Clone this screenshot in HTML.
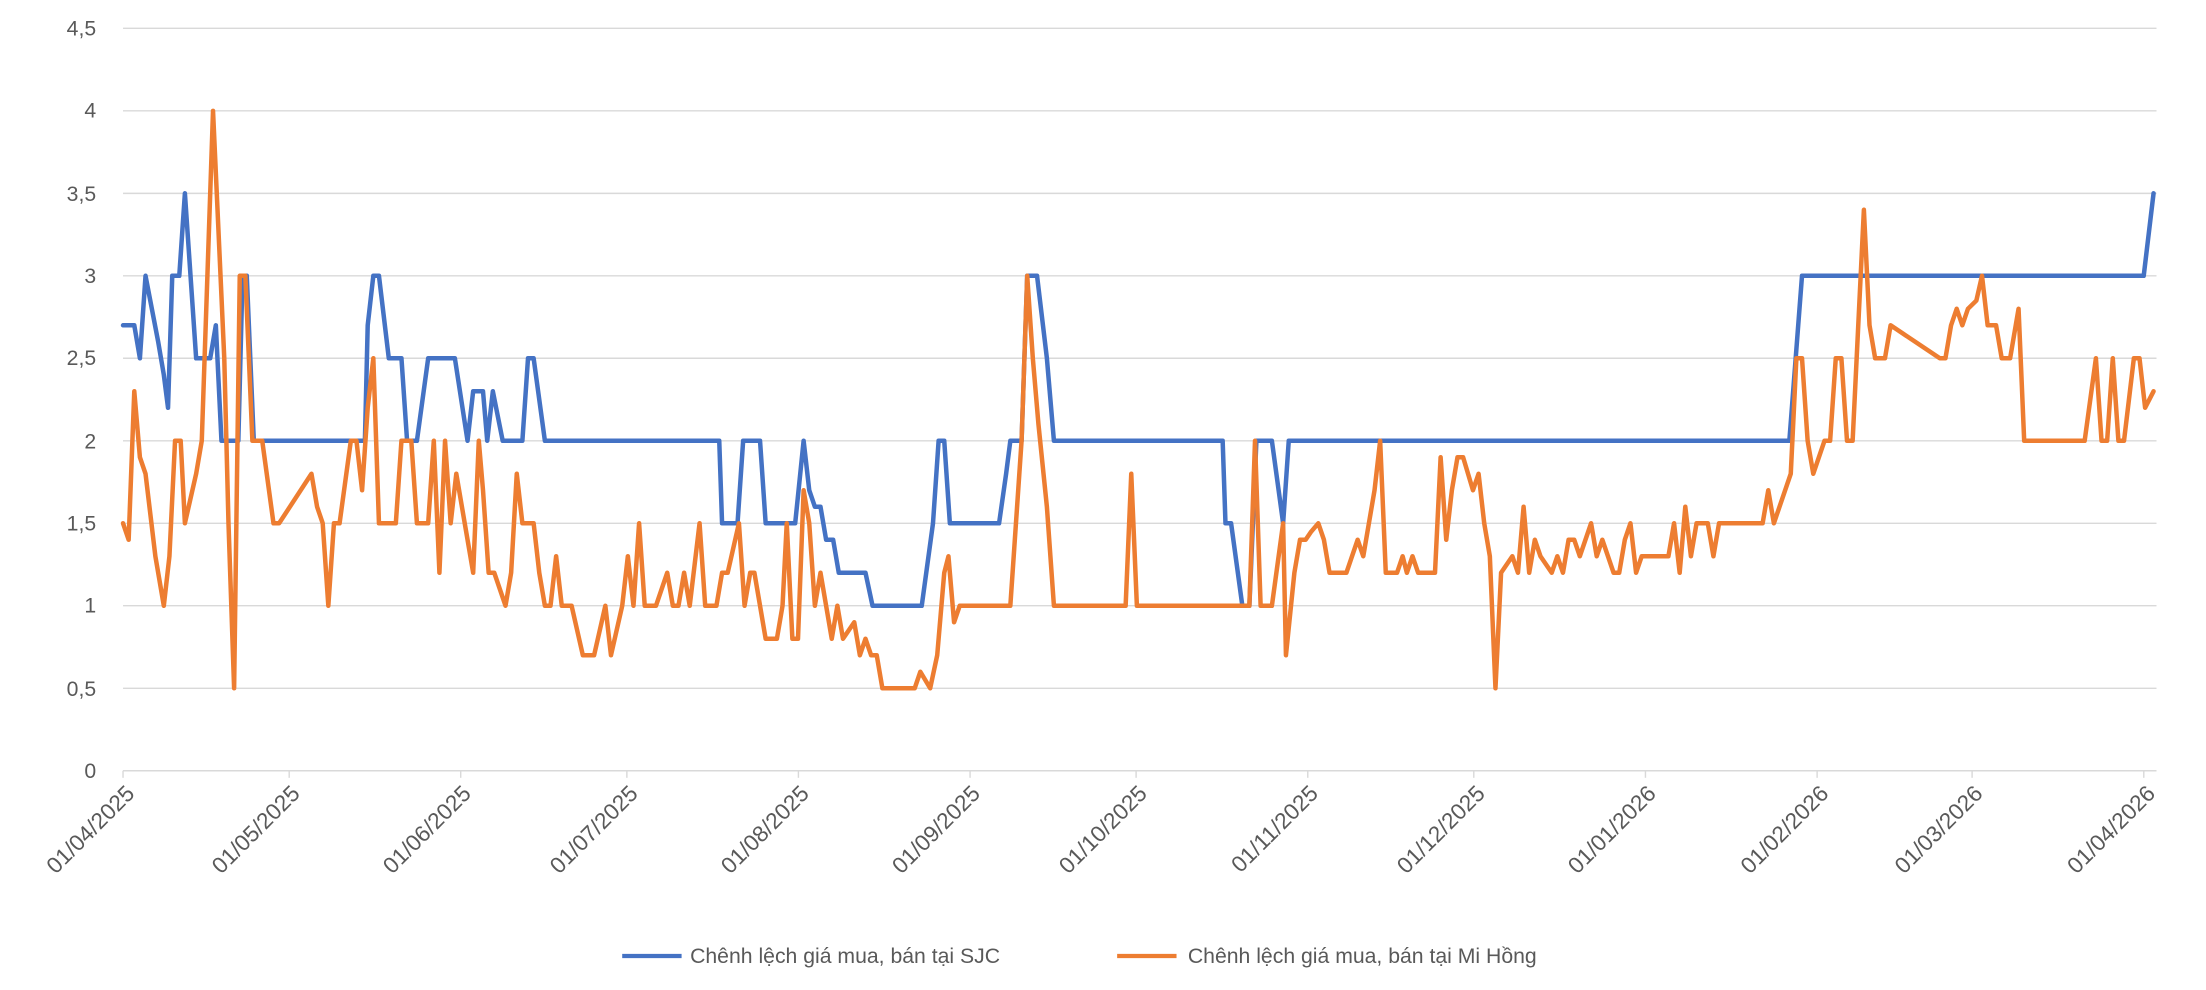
<!DOCTYPE html>
<html><head><meta charset="utf-8"><style>
html,body{margin:0;padding:0;background:#fff;}
svg{display:block;font-family:"Liberation Sans",Arial,sans-serif;}
</style></head><body>
<svg width="2206" height="990" viewBox="0 0 1560 700" xmlns="http://www.w3.org/2000/svg">
<g stroke="#d9d9d9" stroke-width="1">
<line x1="87" x2="1525" y1="20" y2="20"/><line x1="87" x2="1525" y1="78.3" y2="78.3"/>
<line x1="87" x2="1525" y1="136.7" y2="136.7"/><line x1="87" x2="1525" y1="195" y2="195"/>
<line x1="87" x2="1525" y1="253.3" y2="253.3"/><line x1="87" x2="1525" y1="311.7" y2="311.7"/>
<line x1="87" x2="1525" y1="370" y2="370"/><line x1="87" x2="1525" y1="428.3" y2="428.3"/>
<line x1="87" x2="1525" y1="486.7" y2="486.7"/><line x1="87" x2="1525" y1="545" y2="545"/>
</g>
<g fill="#595959" font-size="15" text-anchor="end">
<text x="68" y="25">4,5</text><text x="68" y="83">4</text><text x="68" y="142">3,5</text>
<text x="68" y="200">3</text><text x="68" y="258">2,5</text><text x="68" y="317">2</text>
<text x="68" y="375">1,5</text><text x="68" y="433">1</text><text x="68" y="492">0,5</text><text x="68" y="550">0</text>
</g>
<g fill="#595959" font-size="16" text-anchor="end">
<text transform="translate(96,562) rotate(-45)">01/04/2025</text>
<text transform="translate(213,562) rotate(-45)">01/05/2025</text>
<text transform="translate(334,562) rotate(-45)">01/06/2025</text>
<text transform="translate(452,562) rotate(-45)">01/07/2025</text>
<text transform="translate(573,562) rotate(-45)">01/08/2025</text>
<text transform="translate(694,562) rotate(-45)">01/09/2025</text>
<text transform="translate(812,562) rotate(-45)">01/10/2025</text>
<text transform="translate(933,562) rotate(-45)">01/11/2025</text>
<text transform="translate(1051,562) rotate(-45)">01/12/2025</text>
<text transform="translate(1172,562) rotate(-45)">01/01/2026</text>
<text transform="translate(1294,562) rotate(-45)">01/02/2026</text>
<text transform="translate(1403,562) rotate(-45)">01/03/2026</text>
<text transform="translate(1525,562) rotate(-45)">01/04/2026</text>
</g>
<g stroke="#d9d9d9" stroke-width="1">
<line x1="87" x2="87" y1="545" y2="550"/><line x1="204.5" x2="204.5" y1="545" y2="550"/>
<line x1="325.8" x2="325.8" y1="545" y2="550"/><line x1="443.3" x2="443.3" y1="545" y2="550"/>
<line x1="564.6" x2="564.6" y1="545" y2="550"/><line x1="686" x2="686" y1="545" y2="550"/>
<line x1="803.4" x2="803.4" y1="545" y2="550"/><line x1="924.8" x2="924.8" y1="545" y2="550"/>
<line x1="1042.2" x2="1042.2" y1="545" y2="550"/><line x1="1163.6" x2="1163.6" y1="545" y2="550"/>
<line x1="1285" x2="1285" y1="545" y2="550"/><line x1="1394.6" x2="1394.6" y1="545" y2="550"/>
<line x1="1516" x2="1516" y1="545" y2="550"/>
</g>
<g transform="translate(87,545) scale(0.9944,-116.67) translate(-88,0)" fill="none" stroke-linejoin="round" stroke-linecap="round">
<polyline vector-effect="non-scaling-stroke" stroke-width="4.5" stroke="#4472c4" points="88,2.7 96,2.7 100,2.5 104,3.0 113,2.6 117,2.4 120,2.2 123,3.0 128,3.0 132,3.5 140,2.5 150,2.5 154,2.7 158,2.0 170,2.0 173,3.0 176,3.0 181,2.0 260,2.0 262,2.7 266,3.0 270,3.0 277,2.5 286,2.5 290,2.0 297,2.0 305,2.5 324,2.5 333,2.0 337,2.3 344,2.3 347,2.0 351,2.3 358,2.0 372,2.0 376,2.5 380,2.5 388,2.0 512,2.0 514,1.5 525,1.5 529,2.0 541,2.0 545,1.5 566,1.5 572,2.0 576,1.7 580,1.6 584,1.6 588,1.4 593,1.4 597,1.2 616,1.2 621,1.0 656,1.0 664,1.5 668,2.0 672,2.0 676,1.5 711,1.5 716,1.8 719,2.0 727,2.0 731,3.0 738,3.0 745,2.5 750,2.0 870,2.0 872,1.5 876,1.5 884,1.0 889,1.0 894,2.0 905,2.0 913,1.5 917,2.0 1273,2.0 1282,3.0 1525,3.0 1532,3.5"/>
<polyline vector-effect="non-scaling-stroke" stroke-width="4.5" stroke="#ed7d31" points="88,1.5 92,1.4 96,2.3 100,1.9 104,1.8 111,1.3 117,1.0 121,1.3 125,2.0 129,2.0 132,1.5 140,1.8 144,2.0 148,3.0 152,4.0 160,2.5 163,1.5 167,0.5 171,3.0 175,3.0 180,2.0 187,2.0 195,1.5 199,1.5 222,1.8 226,1.6 230,1.5 234,1.0 238,1.5 242,1.5 250,2.0 254,2.0 258,1.7 262,2.2 266,2.5 270,1.5 282,1.5 286,2.0 293,2.0 297,1.5 305,1.5 309,2.0 313,1.2 317,2.0 321,1.5 325,1.8 333,1.4 337,1.2 341,2.0 344,1.7 348,1.2 352,1.2 360,1.0 364,1.2 368,1.8 372,1.5 380,1.5 384,1.2 388,1.0 392,1.0 396,1.3 400,1.0 407,1.0 415,0.7 423,0.7 431,1.0 435,0.7 443,1.0 447,1.3 451,1.0 455,1.5 459,1.0 467,1.0 475,1.2 479,1.0 483,1.0 487,1.2 491,1.0 498,1.5 502,1.0 506,1.0 510,1.0 514,1.2 518,1.2 526,1.5 530,1.0 534,1.2 537,1.2 541,1.0 545,0.8 553,0.8 557,1.0 560,1.5 564,0.8 568,0.8 572,1.7 576,1.5 580,1.0 584,1.2 588,1.0 592,0.8 596,1.0 600,0.8 608,0.9 612,0.7 616,0.8 620,0.7 624,0.7 628,0.5 651,0.5 655,0.6 662,0.5 667,0.7 672,1.2 675,1.3 679,0.9 683,1.0 719,1.0 723,1.5 727,2.0 731,3.0 735,2.5 739,2.1 745,1.6 750,1.0 801,1.0 805,1.8 809,1.0 885,1.0 889,1.0 893,2.0 897,1.0 905,1.0 913,1.5 915,0.7 921,1.2 925,1.4 929,1.4 933,1.45 938,1.5 942,1.4 946,1.2 958,1.2 962,1.3 966,1.4 970,1.3 974,1.5 978,1.7 982,2.0 986,1.2 994,1.2 998,1.3 1001,1.2 1005,1.3 1009,1.2 1021,1.2 1025,1.9 1029,1.4 1033,1.7 1037,1.9 1041,1.9 1048,1.7 1052,1.8 1056,1.5 1060,1.3 1064,0.5 1068,1.2 1076,1.3 1080,1.2 1084,1.6 1088,1.2 1092,1.4 1096,1.3 1104,1.2 1108,1.3 1112,1.2 1116,1.4 1120,1.4 1124,1.3 1128,1.4 1132,1.5 1136,1.3 1140,1.4 1148,1.2 1152,1.2 1156,1.4 1160,1.5 1164,1.2 1168,1.3 1187,1.3 1191,1.5 1195,1.2 1199,1.6 1203,1.3 1207,1.5 1215,1.5 1219,1.3 1223,1.5 1254,1.5 1258,1.7 1262,1.5 1274,1.8 1278,2.5 1282,2.5 1286,2.0 1290,1.8 1298,2.0 1302,2.0 1306,2.5 1310,2.5 1314,2.0 1318,2.0 1326,3.4 1330,2.7 1334,2.5 1341,2.5 1345,2.7 1380,2.5 1384,2.5 1388,2.7 1392,2.8 1396,2.7 1400,2.8 1406,2.85 1410,3.0 1414,2.7 1420,2.7 1424,2.5 1430,2.5 1436,2.8 1440,2.0 1483,2.0 1491,2.5 1495,2.0 1499,2.0 1503,2.5 1507,2.0 1511,2.0 1518,2.5 1522,2.5 1526,2.2 1532,2.3"/>
</g>
<line x1="440" x2="482" y1="676" y2="676" stroke="#4472c4" stroke-width="3"/>
<text x="488" y="681" font-size="15" fill="#595959">Chênh lệch giá mua, bán tại SJC</text>
<line x1="790" x2="832" y1="676" y2="676" stroke="#ed7d31" stroke-width="3"/>
<text x="840" y="681" font-size="15" fill="#595959">Chênh lệch giá mua, bán tại Mi Hồng</text>
</svg>
</body></html>
